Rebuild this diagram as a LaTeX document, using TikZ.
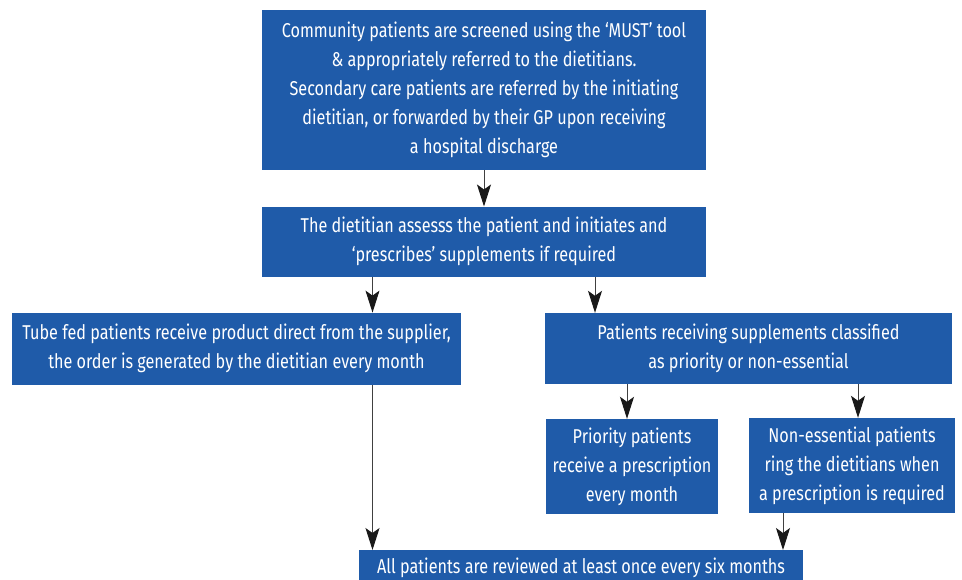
\documentclass[tikz,border=0pt]{standalone}
\usepackage{fontspec}
\setmainfont[FakeStretch=0.81]{Fira Sans}
\usetikzlibrary{arrows.meta}
\definecolor{boxblue}{HTML}{1F5BA9}
\tikzset{
  flowbox/.style={draw=none, fill=boxblue, text=white, align=center, inner sep=0pt,
    font=\fontsize{20}{29}\selectfont},
  flowarrow/.style={draw=black!75, line width=1pt, -{Stealth[length=22pt,width=14pt,inset=5pt,color=black!90]}}
}
\begin{document}
\begin{tikzpicture}[x=1pt,y=-1pt]
\useasboundingbox (0,0) rectangle (962,579);
\clip (0,0) rectangle (962,579);
\node[flowbox, minimum width=444pt, minimum height=160pt] (top) at (484,90)
  {Community patients are screened using the ‘MUST’ tool\\
   \& appropriately referred to the dietitians.\\
   Secondary care patients are referred by the initiating\\
   dietitian, or forwarded by their GP upon receiving\\
   a hospital discharge};
\node[flowbox, minimum width=444pt, minimum height=70pt] (assess) at (484,241.7)
  {The dietitian assesss the patient and initiates and\\
   ‘prescribes’ supplements if required};
\node[flowbox, minimum width=449pt, minimum height=72pt] (tube) at (236.5,348.8)
  {Tube fed patients receive product direct from the supplier,\\
   the order is generated by the dietitian every month};
\node[flowbox, minimum width=407pt, minimum height=71pt] (classify) at (748.5,348.5)
  {Patients receiving supplements classified\\
   as priority or non-essential};
\node[flowbox, minimum width=172pt, minimum height=95pt] (priority) at (632,466.5)
  {Priority patients\\ receive a prescription\\ every month};
\node[flowbox, minimum width=206pt, minimum height=95pt] (nonessential) at (852,465.5)
  {Non-essential patients\\ ring the dietitians when\\ a prescription is required};
\fill[boxblue] (359,550) rectangle (803,590);
\node[flowbox, fill=none, minimum width=444pt, minimum height=35pt, anchor=north] (review) at (581,550)
  {All patients are reviewed at least once every six months};
\draw[flowarrow] (top.south -| 484,0) -- (assess.north -| 484,0);
\draw[flowarrow] (assess.south -| 372.5,0) -- (tube.north -| 372.5,0);
\draw[flowarrow] (assess.south -| 595,0) -- (classify.north -| 595,0);
\draw[flowarrow] (classify.south -| 627,0) -- (priority.north -| 627,0);
\draw[flowarrow] (classify.south -| 858,0) -- (nonessential.north -| 858,0);
\draw[flowarrow] (tube.south -| 372.5,0) -- (review.north -| 372.5,0);
\draw[flowarrow] (nonessential.south -| 783,0) -- (review.north -| 783,0);
\end{tikzpicture}
\end{document}
